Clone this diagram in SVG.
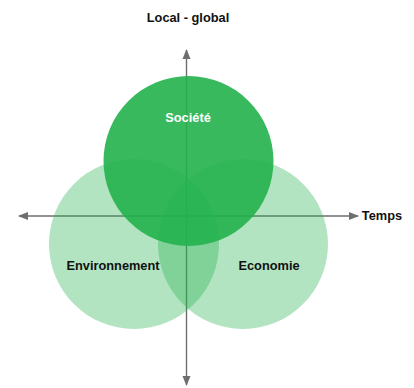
<svg xmlns="http://www.w3.org/2000/svg" width="414" height="388" viewBox="0 0 414 388">
<style>
.lbl{font-family:"Liberation Sans",Arial,sans-serif;font-weight:bold;font-size:12.8px;fill:#111;text-anchor:middle}
.ax{stroke:#6e6e6e;stroke-width:1.4;fill:none}
.light{fill:#22b14c;fill-opacity:0.35}
.dark{fill:#22b14c;fill-opacity:0.9}
</style>
<defs>
<marker id="ah" viewBox="0 0 10 10" refX="9" refY="5" markerWidth="10" markerHeight="10" markerUnits="userSpaceOnUse" orient="auto">
<path d="M0,1 L10,5 L0,9 Z" fill="#6e6e6e"/>
</marker>
</defs>
<g id="connectors">
<line class="ax" x1="186.5" y1="216" x2="186.5" y2="50" marker-end="url(#ah)"/>
<line class="ax" x1="186.5" y1="216" x2="186.5" y2="385" marker-end="url(#ah)"/>
<line class="ax" x1="186.5" y1="216" x2="19" y2="216" marker-end="url(#ah)"/>
<line class="ax" x1="186.5" y1="216" x2="358" y2="216" marker-end="url(#ah)"/>
</g>
<g id="environnement">
<circle class="light" cx="134" cy="244" r="85"/>
<text class="lbl" x="113" y="270">Environnement</text>
</g>
<g id="economie">
<circle class="light" cx="243" cy="244" r="85"/>
<text class="lbl" x="269" y="270">Economie</text>
</g>
<g id="societe">
<circle class="dark" cx="188.5" cy="161" r="85"/>
<text class="lbl" x="188" y="122" style="fill:#fff">Société</text>
</g>
<g id="axis-labels">
<text class="lbl" x="188" y="22">Local - global</text>
<text class="lbl" x="382" y="220">Temps</text>
</g>
</svg>
